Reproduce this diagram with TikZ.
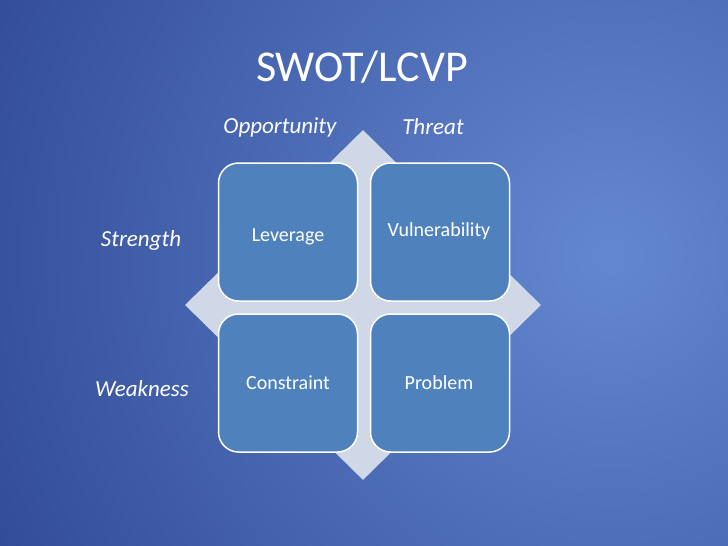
\documentclass[tikz,border=0pt]{standalone}
\usepackage{fontspec}
\setmainfont{Carlito}
\usetikzlibrary{shapes.geometric}
\definecolor{bgin}{RGB}{100,136,208}
\definecolor{bgout}{RGB}{34,56,134}
\definecolor{boxblue}{RGB}{79,129,189}
\definecolor{diamondfill}{RGB}{208,216,232}
\tikzset{
  box/.style={draw=white, line width=1.5pt, fill=boxblue, rounded corners=20pt,
    minimum width=139pt, minimum height=138pt},
  boxtext/.style={text=white, font=\fontsize{20}{24}\selectfont},
  axislabel/.style={text=white, font=\itshape\fontsize{23}{27}\selectfont},
}
\begin{document}
\begin{tikzpicture}[x=1pt,y=-1pt]
\useasboundingbox (0,0) rectangle (728,546);
\fill[bgout] (0,0) rectangle (728,546);
\begin{scope}
\clip (0,0) rectangle (728,546);
\shade[inner color=bgin, outer color=bgout] (610,255) circle (900);
\end{scope}
\node[text=white, font=\fontsize{44}{52}\selectfont] (title) at (362,67) {SWOT/LCVP};
\node[diamond, fill=diamondfill, minimum width=356pt, minimum height=350pt, inner sep=0pt] (dia) at (363,305) {};
\node[box] (lev) at (288,232) {};
\node[box] (vul) at (440,232) {};
\node[box] (con) at (288,383) {};
\node[box] (pro) at (440,383) {};
\node[boxtext] (levt) at (288,237) {Leverage};
\node[boxtext] (vult) at (439,231) {Vulnerability};
\node[boxtext] (cont) at (288,383) {Constraint};
\node[boxtext] (prot) at (439,383) {Problem};
\node[axislabel] (opp) at (280,127) {Opportunity};
\node[axislabel] (thr) at (433,127) {Threat};
\node[axislabel] (str) at (141,240) {Strength};
\node[axislabel] (wea) at (142,389) {Weakness};
\end{tikzpicture}
\end{document}
